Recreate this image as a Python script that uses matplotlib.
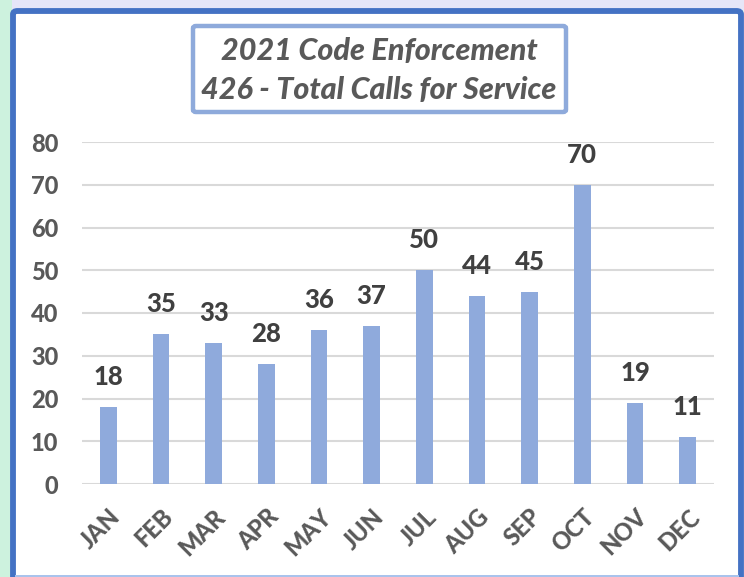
import matplotlib
matplotlib.use("Agg")
import matplotlib.pyplot as plt
from matplotlib.patches import FancyBboxPatch, Rectangle
from matplotlib import font_manager as fm
import matplotlib.transforms as mtransforms

months = ["JAN", "FEB", "MAR", "APR", "MAY", "JUN", "JUL", "AUG", "SEP", "OCT", "NOV", "DEC"]
calls = [18, 35, 33, 28, 36, 37, 50, 44, 45, 70, 19, 11]
yticks = [0, 10, 20, 30, 40, 50, 60, 70, 80]
title_lines = ["2021 Code Enforcement", "426 - Total Calls for Service"]


def font_by_file(fnames, size, style="normal"):
    files = {f.fname.split("/")[-1]: f.fname for f in fm.fontManager.ttflist}
    for fn in fnames:
        if fn in files:
            return fm.FontProperties(fname=files[fn], size=size)
    return fm.FontProperties(family="DejaVu Sans", weight="bold", style=style, size=size)


W, H = 744, 577
fig = plt.figure(figsize=(W / 100, H / 100), dpi=100)
fig.patch.set_facecolor("#e4f4ee")


def fx(px):
    return px / W


def fy(py):
    return 1 - py / H


# background decoration
fig.patches.append(Rectangle((0, fy(10)), 1, 10 / H, transform=fig.transFigure,
                             facecolor="#e6e6f8", edgecolor="none", zorder=0))
fig.patches.append(Rectangle((0, 0), fx(12), 1, transform=fig.transFigure,
                             facecolor="#cdf2de", edgecolor="none", zorder=0))

# white chart area with blue frame
frame = FancyBboxPatch((fx(13), fy(590)), fx(741) - fx(13), fy(11) - fy(590),
                       boxstyle="round,pad=0,rounding_size=0.006",
                       transform=fig.transFigure, facecolor="white",
                       edgecolor="#4472C4", linewidth=4.2, zorder=1)
fig.patches.append(frame)
fig.patches.append(Rectangle((fx(15), fy(577)), fx(739) - fx(15), 2.5 / H,
                             transform=fig.transFigure, facecolor="#a9c3ec",
                             edgecolor="none", zorder=2))

tick_col = "#595959"
heavy = ["Lato-Heavy.ttf", "Lato-Black.ttf", "Lato-Bold.ttf"]
fp_ytick = font_by_file(heavy, 17)
fp_xtick = font_by_file(heavy, 17)
fp_lab = font_by_file(heavy, 18.5)
fp_title = font_by_file(["Lato-HeavyItalic.ttf", "Lato-BoldItalic.ttf"], 22, style="italic")

ax = fig.add_axes([fx(82), fy(484), fx(714) - fx(82), fy(142) - fy(484)])
ax.set_facecolor("none")
ax.set_zorder(3)
x = list(range(len(months)))
ax.bar(x, calls, width=0.32, color="#8FAADC", zorder=3)
ax.set_xlim(-0.5, len(months) - 0.5)
ax.set_ylim(0, 80)
ax.set_yticks(yticks)
ax.set_yticklabels([str(v) for v in yticks], fontproperties=fp_ytick, color=tick_col)
ax.set_xticks(x)
ax.set_xticklabels(months, rotation=45, ha="right", rotation_mode="anchor",
                   fontproperties=fp_xtick, color=tick_col)
shift = mtransforms.ScaledTranslation(5 / 100, 0, fig.dpi_scale_trans)
for lbl in ax.get_xticklabels():
    lbl.set_transform(lbl.get_transform() + shift)
ax.tick_params(axis="both", length=0)
ax.tick_params(axis="y", pad=17)
ax.tick_params(axis="x", pad=15)
ax.grid(axis="y", color="#D9D9D9", linewidth=1.5, zorder=0)
ax.set_axisbelow(True)
for s in ax.spines.values():
    s.set_visible(False)

for xi, v in zip(x, calls):
    ax.annotate(str(v), (xi, v), xytext=(0, 13), textcoords="offset points",
                ha="center", va="bottom", fontproperties=fp_lab,
                color="#404040", zorder=4)

# title box
tbox = FancyBboxPatch((fx(193), fy(112)), fx(566) - fx(193), fy(26) - fy(112),
                      boxstyle="round,pad=0,rounding_size=0.004",
                      transform=fig.transFigure, facecolor="white",
                      edgecolor="#8EAADB", linewidth=3.2, zorder=5)
fig.patches.append(tbox)
fig.text(fx(379), fy(51), title_lines[0], ha="center", va="center",
         fontproperties=fp_title, color=tick_col, zorder=6)
fig.text(fx(379), fy(90), title_lines[1], ha="center", va="center",
         fontproperties=fp_title, color=tick_col, zorder=6)

fig.savefig("out.png", dpi=100, facecolor=fig.get_facecolor())
